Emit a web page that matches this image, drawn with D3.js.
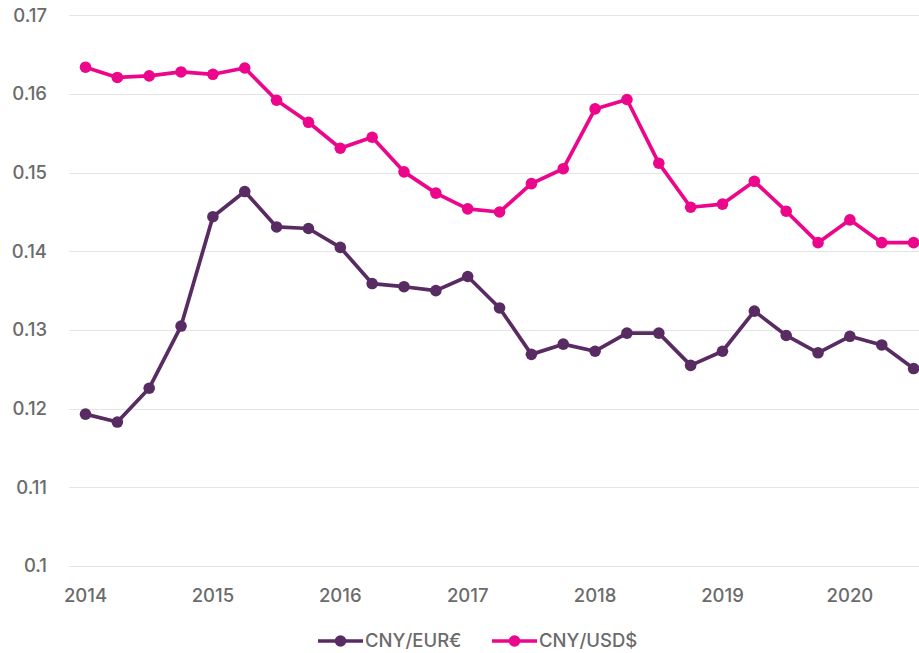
<!DOCTYPE html>
<html lang="en">
<head>
  <meta charset="UTF-8" />
  <title>CNY exchange rates</title>
  <script src="https://d3js.org/d3.v7.min.js"></script>
  <style>
    body { margin: 0; background: #fff; font-family: Inter, "Open Sans", Arial, sans-serif; }
    .tick-label { font-size: 18.5px; font-weight: 500; fill: #6b6b6b; }
    .legend-label { font-size: 18.5px; font-weight: 500; fill: #6b6b6b; }
  </style>
</head>
<body>
  <div id="chart"></div>
  <script>
    // Quarterly points, 2014 Q1 .. 2020 Q3
    const quarters = d3.range(27).map(i => `${2014 + Math.floor(i / 4)} Q${(i % 4) + 1}`);
    const yearLabels = ["2014", "2015", "2016", "2017", "2018", "2019", "2020"];
    const yTicks = [0.1, 0.11, 0.12, 0.13, 0.14, 0.15, 0.16, 0.17];

    const cnyEur = [
      0.1193, 0.1183, 0.1226, 0.1305, 0.1444, 0.1476, 0.1431, 0.1429, 0.1405,
      0.1359, 0.1355, 0.1350, 0.1368, 0.1328, 0.1269, 0.1282, 0.1273, 0.1296,
      0.1296, 0.1255, 0.1273, 0.1324, 0.1293, 0.1271, 0.1292, 0.1281, 0.1251
    ];
    const cnyUsd = [
      0.1634, 0.1621, 0.1623, 0.1628, 0.1625, 0.1633, 0.1592, 0.1564, 0.1531,
      0.1545, 0.1501, 0.1474, 0.1454, 0.1450, 0.1486, 0.1505, 0.1581, 0.1593,
      0.1512, 0.1456, 0.1460, 0.1489, 0.1451, 0.1411, 0.1440, 0.1411, 0.1411
    ];

    const series = [
      { name: "CNY/EUR€", values: cnyEur, color: "#582c62" },
      { name: "CNY/USD$", values: cnyUsd, color: "#eb068b" }
    ];

    const width = 919, height = 653;
    const gridLeft = 69, gridRight = 919;

    const svg = d3.select("#chart").append("svg")
      .attr("width", width)
      .attr("height", height);

    const x = d3.scalePoint()
      .domain(quarters)
      .range([85.5, 913.6]);

    const y = d3.scaleLinear()
      .domain([0.1, 0.17])
      .range([566, 15.3]);

    // gridlines
    svg.append("g")
      .selectAll("line")
      .data(yTicks)
      .join("line")
      .attr("x1", gridLeft)
      .attr("x2", gridRight)
      .attr("y1", d => Math.round(y(d)) + 0.5)
      .attr("y2", d => Math.round(y(d)) + 0.5)
      .attr("stroke", "#e5e5e5")
      .attr("stroke-width", 1);

    // y labels
    svg.append("g")
      .selectAll("text")
      .data(yTicks)
      .join("text")
      .attr("class", "tick-label")
      .attr("x", 47)
      .attr("y", d => y(d))
      .attr("dy", "0.35em")
      .attr("text-anchor", "end")
      .text(d => d3.format("")(+d.toFixed(2)));

    // x labels at the first quarter of each year
    svg.append("g")
      .selectAll("text")
      .data(yearLabels)
      .join("text")
      .attr("class", "tick-label")
      .attr("x", d => x(`${d} Q1`))
      .attr("y", 602)
      .attr("text-anchor", "middle")
      .text(d => d);

    const line = d3.line()
      .x((d, i) => x(quarters[i]))
      .y(d => y(d));

    series.forEach(s => {
      const g = svg.append("g");
      g.append("path")
        .datum(s.values)
        .attr("fill", "none")
        .attr("stroke", s.color)
        .attr("stroke-width", 3.7)
        .attr("stroke-linejoin", "round")
        .attr("d", line);
      g.selectAll("circle")
        .data(s.values)
        .join("circle")
        .attr("cx", (d, i) => x(quarters[i]))
        .attr("cy", d => y(d))
        .attr("r", 5.8)
        .attr("fill", s.color);
    });

    // legend
    const legendX = [318, 492];
    const legend = svg.append("g");
    series.forEach((s, i) => {
      const g = legend.append("g").attr("transform", `translate(${legendX[i]},641)`);
      g.append("line")
        .attr("x1", 0).attr("x2", 45)
        .attr("stroke", s.color)
        .attr("stroke-width", 3.7);
      g.append("circle")
        .attr("cx", 22.5)
        .attr("r", 5.8)
        .attr("fill", s.color);
      g.append("text")
        .attr("class", "legend-label")
        .attr("x", 47)
        .attr("dy", "0.35em")
        .text(s.name);
    });
  </script>
</body>
</html>
